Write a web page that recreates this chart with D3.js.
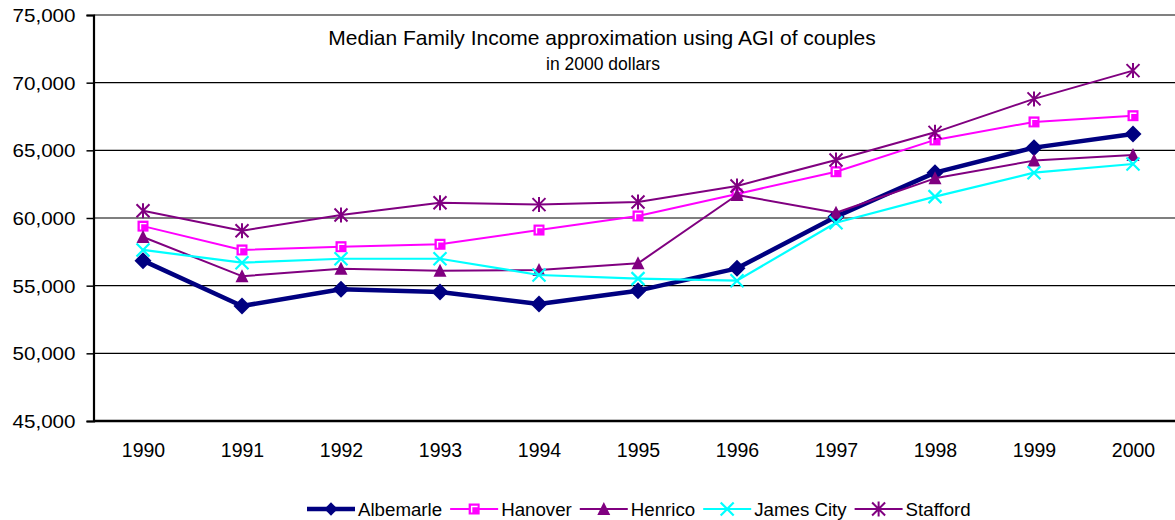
<!DOCTYPE html>
<html><head><meta charset="utf-8">
<script src="https://cdn.jsdelivr.net/npm/d3@7"></script>
<style>
html,body{margin:0;padding:0;background:#fff;}
svg text{font-family:"Liberation Sans",Arial,sans-serif;fill:#000;}
</style></head>
<body>
<svg id="chart" width="1175" height="520"></svg>
<script>
const years = [1990,1991,1992,1993,1994,1995,1996,1997,1998,1999,2000];
const albemarle = [56850,53500,54730,54530,53650,54630,56280,60100,63350,65200,66200];
const hanover   = [59400,57640,57880,58060,59110,60150,61780,63420,65770,67100,67560];
const henrico   = [58600,55700,56250,56110,56160,56650,61700,60390,62930,64240,64660];
const jamesCity = [57640,56700,56990,56990,55790,55520,55370,59650,61580,63350,63990];
const stafford  = [60540,59060,60220,61130,60990,61180,62370,64290,66330,68800,70890];
const seriesNames = ["Albemarle","Hanover","Henrico","James City","Stafford"];
const yTicks = [45000,50000,55000,60000,65000,70000,75000];
const titleText = "Median Family Income approximation using AGI of couples";
const subtitleText = "in 2000 dollars";

const seriesData = [albemarle, hanover, henrico, jamesCity, stafford];
const styles = [
  {color:"#000080", width:4.5, marker:"diamond"},
  {color:"#FF00FF", width:2, marker:"square"},
  {color:"#800080", width:2, marker:"triangle"},
  {color:"#00FFFF", width:2.2, marker:"x"},
  {color:"#800080", width:2, marker:"star"}
];

const svg = d3.select("#chart");
const plotLeft = 93.5, plotRight = 1182.5, plotTop = 15, plotBottom = 421;
const x = d3.scalePoint().domain(years).range([plotLeft, plotRight]).padding(0.5);
const y = d3.scaleLinear().domain([45000, 75000]).range([plotBottom, plotTop]);

// gridlines
svg.append("g").selectAll("line").data(yTicks.filter(v => v > 45000 && v < 75000)).join("line")
  .attr("x1", plotLeft).attr("x2", 1175).attr("y1", d => y(d)).attr("y2", d => y(d))
  .attr("stroke", "#000").attr("stroke-width", 1.2);
// top border
svg.append("line").attr("x1", plotLeft).attr("x2", 1175).attr("y1", y(75000)).attr("y2", y(75000))
  .attr("stroke", "#808080").attr("stroke-width", 2);

// y axis
const yAxis = d3.axisLeft(y).tickValues(yTicks).tickSize(7).tickPadding(11)
  .tickFormat(d3.format(","));
const yg = svg.append("g").attr("transform", `translate(${plotLeft},0)`).call(yAxis);
yg.select(".domain").attr("stroke", "#000").attr("stroke-width", 2.2);
yg.selectAll(".tick line").attr("stroke", "#000").attr("stroke-width", 1.5);
yg.selectAll(".tick text").attr("font-size", 18).attr("font-family", "Liberation Sans, Arial, sans-serif")
  .attr("fill", "#000").attr("textLength", 63).attr("lengthAdjust", "spacingAndGlyphs").attr("dy", "0.36em");

// x axis
const xAxis = d3.axisBottom(x).tickSize(0).tickPadding(24);
const xg = svg.append("g").attr("transform", `translate(0,${plotBottom})`).call(xAxis);
xg.select(".domain").attr("stroke", "#000").attr("stroke-width", 2.4).attr("d", `M${plotLeft},0H1175`);
xg.selectAll(".tick text").attr("font-size", 19.5).attr("font-family", "Liberation Sans, Arial, sans-serif")
  .attr("fill", "#000").attr("dy", "0.6em");

// markers
function drawMarker(g, type, color, s) {
  s = s || 1;
  if (type === "diamond") {
    g.append("path").attr("d", `M0,${-8.5*s}L${8.5*s},0L0,${8.5*s}L${-8.5*s},0Z`).attr("fill", color);
  } else if (type === "square") {
    g.append("rect").attr("x", -5.5).attr("y", -5.5).attr("width", 11).attr("height", 11).attr("fill", color);
    g.append("path").attr("d", "M-2.5,3.5V-2.5H3.5").attr("fill", "none").attr("stroke", "#fff").attr("stroke-width", 1.4);
  } else if (type === "triangle") {
    g.append("path").attr("d", "M0,-7L6.5,6L-6.5,6Z").attr("fill", color);
  } else if (type === "x") {
    g.append("path").attr("d", "M-6.5,-6.5L6.5,6.5M-6.5,6.5L6.5,-6.5").attr("stroke", color).attr("stroke-width", 2.2).attr("fill", "none");
  } else if (type === "star") {
    g.append("path").attr("d", "M-6.5,-6.5L6.5,6.5M-6.5,6.5L6.5,-6.5M0,-7.5V7.5").attr("stroke", color).attr("stroke-width", 2).attr("fill", "none");
  }
}

const line = d3.line().x((d, i) => x(years[i])).y(d => y(d));
seriesData.forEach((vals, si) => {
  const st = styles[si];
  const g = svg.append("g");
  g.append("path").datum(vals).attr("d", line).attr("fill", "none")
    .attr("stroke", st.color).attr("stroke-width", st.width).attr("stroke-linejoin", "round");
  vals.forEach((v, i) => {
    const mg = g.append("g").attr("transform", `translate(${x(years[i])},${y(v)})`);
    drawMarker(mg, st.marker, st.color);
  });
});

// title
svg.append("text").attr("x", 602).attr("y", 45).attr("text-anchor", "middle").attr("font-size", 21).text(titleText);
svg.append("text").attr("x", 603).attr("y", 70).attr("text-anchor", "middle").attr("font-size", 17.5).text(subtitleText);

// legend
const lg = svg.append("g");
let cx = 307;
const ly = 509;
seriesNames.forEach((name, si) => {
  const st = styles[si];
  const item = lg.append("g");
  item.append("line").attr("x1", cx).attr("x2", cx + 48).attr("y1", ly).attr("y2", ly)
    .attr("stroke", st.color).attr("stroke-width", st.width);
  const mg = item.append("g").attr("transform", `translate(${cx + 24},${ly})`);
  drawMarker(mg, st.marker, st.color, 0.78);
  const t = item.append("text").attr("x", cx + 51).attr("y", ly + 6.5).attr("font-size", 18.7).text(name);
  const w = t.node().getComputedTextLength();
  cx = cx + 51 + w + 8;
});
</script>
</body></html>
